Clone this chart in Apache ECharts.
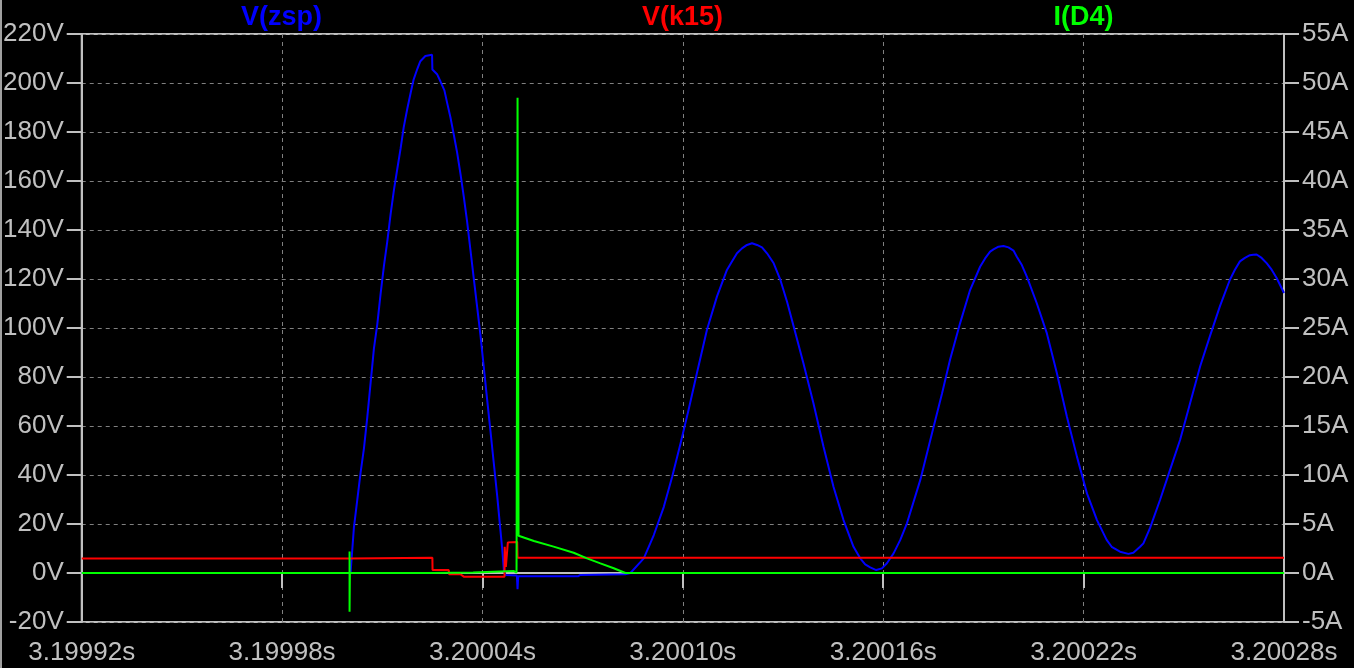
<!DOCTYPE html>
<html>
<head>
<meta charset="utf-8">
<script src="https://cdn.jsdelivr.net/npm/echarts@6/dist/echarts.min.js"></script>
<style>
html,body{margin:0;padding:0;background:#000;}
#c{width:1354px;height:668px;}
</style>
</head>
<body>
<div id="c"></div>
<script>
// time offset in microseconds from T0 (seconds)
const T0 = 3.19992;
const xTicks = [0, 60, 120, 180, 240, 300, 360];
const seriesNames = ['V(zsp)', 'V(k15)', 'I(D4)'];

// V(zsp) [t(us), V]
const vzsp = [
  [0,0],[80.5,0],[81.5,18.5],[82.5,29.7],[83.5,41],[84.5,50.8],[85.5,63.5],[86.5,77.6],
  [87.5,91.7],[88.5,101.5],[89.5,114],[90.5,125.5],[91.5,135.4],[92.5,146.6],[93.5,156.5],
  [94.5,165],[95.5,173.4],[96.4,181.8],[97.5,189.6],[98.5,196],[99.4,201.5],[100.5,205.8],
  [101.4,208.9],[102.9,211],[104.9,211.5],[105.0,205.5],[106.4,203.6],[107.4,200.7],
  [108.6,197],[109.4,192],[110.4,186],[111.4,179],[112.4,171.7],[113.4,163],[114.4,153.6],
  [115.4,143.4],[116.4,131.8],[117.4,120.2],[118.4,108.6],[119.4,97],[120.4,83.9],
  [121.4,70.8],[122.4,57.8],[123.4,44.7],[124.4,31.6],[125.4,17.1],[125.9,9.9],[126.4,1.2],
  [126.9,-0.8],[130.3,-1.0],[130.5,-6.6],[130.7,-1.3],[148.7,-1.3],[149.3,-0.8],[162.8,-0.5],
  [164.3,0],[168.3,6],[171.3,15.5],[174.3,27],[176.8,39.3],[179.3,52.9],[181.7,66.5],
  [184.2,81.5],[187.2,99.2],[190.2,112.8],[193.2,123.7],[194.7,127.1],[196.2,130.5],
  [197.7,132.5],[199.2,133.9],[200.7,134.6],[202.2,133.9],[203.7,132.9],[205.2,130.5],
  [207.2,126.4],[209.2,119.6],[211.2,110.7],[213.2,100.5],[216.1,85.6],[219.1,69.3],
  [222.1,51.6],[225.1,35.2],[228.1,21.6],[231.1,10.7],[233.1,6],[234.6,3.5],[236.1,2.3],
  [237.9,1.2],[239.6,1.9],[241.1,4.0],[242.1,6],[243.1,8],
  [245.1,13.5],[247.1,20.3],[251.1,38],[254.6,57],[257.6,73.3],[260.0,87],[263.0,101.9],
  [266.0,115.5],[269.0,125],[270.5,128.4],[272.0,131.2],[273.0,132.1],[274.5,133.2],
  [276.0,133.5],[277.5,132.9],[279.0,131.6],[280.0,129.1],[281.5,125.7],[283.0,121],
  [286.0,110],[289.0,97.8],[292.0,81.5],[295.0,63.8],[298.0,47.5],[301.0,32.5],[304.0,21.6],
  [306.9,13.5],[308.4,10.7],[310.9,8.7],[313.4,7.8],[314.9,8.3],[316.9,10.7],[317.9,12.1],
  [319.9,18.4],[322.9,29.9],[325.9,42.2],
  [328.9,54.4],[331.9,69.4],[334.9,84.4],[337.8,96.6],[340.8,108.8],[343.8,119.7],
  [345.3,123.8],[346.8,127.2],[348.3,128.6],[349.8,129.7],[350.8,129.9],[351.8,130],
  [353.3,128.6],[354.8,126.5],[356.3,123.8],[357.8,120.4],[360,114.3]
];

// V(k15) [t(us), V]
const vk15 = [
  [0,5.9],[80.2,5.9],[80.25,6.2],[105.0,6.2],[105.05,1.2],[109.9,1.2],[110.0,-0.5],
  [113.4,-0.5],[114.4,-1.5],[126.6,-1.5],[126.65,10.7],[127.0,2.5],[127.6,12.5],
  [130.4,12.7],[130.5,6.2],[360,6.2]
];

// I(D4) [t(us), A]
const id4 = [
  [0,0],[80.2,0],[80.2,2.2],[80.2,-3.95],[80.3,0],[105,0],[105.1,0.05],[117.2,0.05],
  [117.3,0.2],[129.4,0.2],[130.2,0.05],[130.5,48.5],[130.8,3.8],[135.4,3.27],[141.3,2.69],
  [147.3,2.07],[151.3,1.49],[155.3,0.98],[159.3,0.48],[162.8,0],[360,0]
];

const colors = ['#0000ff', '#ff0000', '#00ff00'];
const axisGray = '#c0c0c0';
const font = '"Liberation Sans", Arial, sans-serif';

const chart = echarts.init(document.getElementById('c'), null, {renderer: 'canvas'});
const titleX = [xTicks[1], xTicks[3], xTicks[5]];
chart.setOption({
  backgroundColor: '#000',
  animation: false,
  title: seriesNames.map((n, i) => ({
    text: n,
    left: 81 + titleX[i] * (1203 / 360),
    top: 4,
    padding: 0,
    textAlign: 'center',
    textStyle: {color: colors[i], fontSize: 27, fontWeight: 'bold', fontFamily: font}
  })),
  grid: {
    left: 81, right: 70, top: 34, bottom: 46,
    show: true, borderColor: axisGray, borderWidth: 2, backgroundColor: '#000',
    containLabel: false
  },
  xAxis: {
    type: 'value', min: 0, max: 360, interval: 60,
    axisLine: {show: true, lineStyle: {color: axisGray, width: 2}},
    axisTick: {show: true, length: 15, lineStyle: {color: axisGray, width: 2}},
    axisLabel: {
      margin: 18, color: axisGray, fontSize: 26, fontFamily: font,
      formatter: v => (T0 + v * 1e-6).toFixed(5) + 's'
    },
    splitLine: {show: true, lineStyle: {color: '#808080', width: 1, type: [4, 4]}}
  },
  yAxis: [
    {
      type: 'value', min: -20, max: 220, interval: 20, position: 'left',
      axisLine: {show: true, lineStyle: {color: axisGray, width: 2}},
      axisTick: {show: true, length: 15, lineStyle: {color: axisGray, width: 2}},
      axisLabel: {margin: 18, color: axisGray, fontSize: 26, fontFamily: font, formatter: '{value}V'},
      splitLine: {show: true, lineStyle: {color: '#808080', width: 1, type: [4, 4]}}
    },
    {
      type: 'value', min: -5, max: 55, interval: 5, position: 'right',
      axisLine: {show: true, lineStyle: {color: axisGray, width: 2}},
      axisTick: {show: true, length: 15, lineStyle: {color: axisGray, width: 2}},
      axisLabel: {margin: 18, color: axisGray, fontSize: 26, fontFamily: font, formatter: '{value}A'},
      splitLine: {show: false}
    }
  ],
  graphic: [{
    type: 'line', shape: {x1: 1, y1: 0, x2: 1, y2: 668},
    style: {stroke: '#a0a0a0', lineWidth: 2}
  }],
  series: [
    {name: seriesNames[0], type: 'line', data: vzsp, yAxisIndex: 0, showSymbol: false,
     lineStyle: {color: colors[0], width: 2}, itemStyle: {color: colors[0]}, z: 2},
    {name: seriesNames[1], type: 'line', data: vk15, yAxisIndex: 0, showSymbol: false,
     lineStyle: {color: colors[1], width: 2}, itemStyle: {color: colors[1]}, z: 3},
    {name: seriesNames[2], type: 'line', data: id4, yAxisIndex: 1, showSymbol: false,
     lineStyle: {color: colors[2], width: 2}, itemStyle: {color: colors[2]}, z: 4}
  ]
});
</script>
</body>
</html>
